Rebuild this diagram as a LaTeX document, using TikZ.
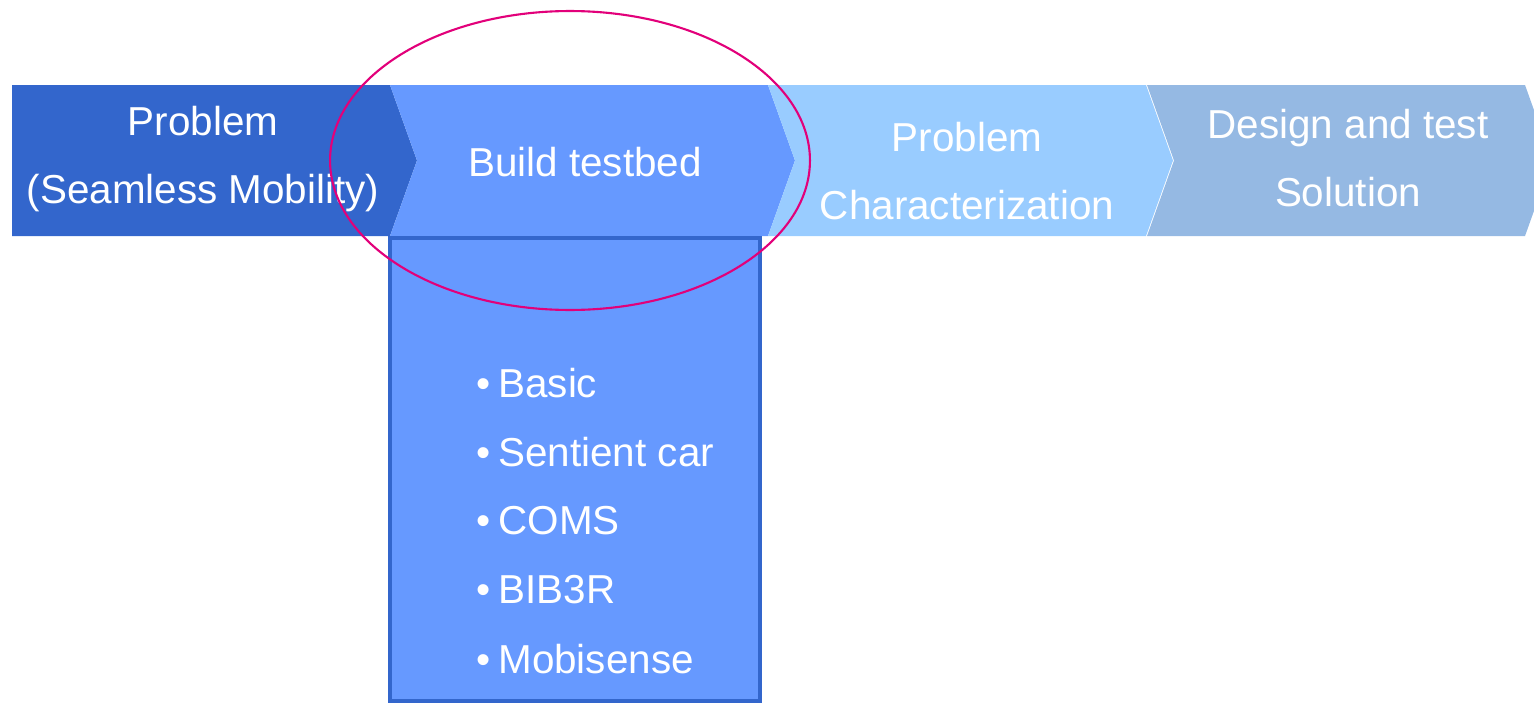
\documentclass[tikz,border=0pt]{standalone}
\usepackage{fontspec}
\setmainfont{Liberation Sans}
\usetikzlibrary{positioning}
\definecolor{stageA}{HTML}{3366CC}
\definecolor{stageB}{HTML}{6699FF}
\definecolor{stageC}{HTML}{99CCFF}
\definecolor{stageD}{HTML}{95B9E3}
\definecolor{ring}{HTML}{E2007A}
\tikzset{lbl/.style={draw=none, text=white, align=center, font=\fontsize{23}{38.5}\selectfont}}

\begin{document}
\begin{tikzpicture}[x=0.02cm,y=-0.02cm]
\useasboundingbox (0,0) rectangle (1534,703);

\fill[stageA] (12,85) -- (390,85) -- (417,160.5) -- (390,236) -- (12,236) -- cycle;
\foreach \x/\c in {390/stageB, 768/stageC, 1147/stageD}
{
	\fill[\c] (\x,85) -- (\x+378,85) -- (\x+405,160.5) -- (\x+378,236) -- (\x,236) -- (\x+27,160.5) -- cycle;
}

\draw[stageA, line width=2.3pt, fill=stageB] (390,238) rectangle (760,701);

\path (203,159) node[lbl] (prob) {Problem\\(Seamless Mobility)};
\path (585,162) node[lbl] (build) {Build testbed};
\path (967,171) node[lbl] (charac) {Problem\\Characterization};
\path (1348,158) node[lbl] (design) {Design and test\\Solution};

\foreach \t [count=\i] in {Basic, Sentient car, COMS, BIB3R, Mobisense}
{
	\path (470,383+69*\i-69) node[lbl, anchor=west] (item\i) {•\hspace{0.2em}\t};
}

\draw[ring, line width=1.2pt] (570,160.5) ellipse [x radius=4.8cm, y radius=2.99cm];

\end{tikzpicture}
\end{document}
